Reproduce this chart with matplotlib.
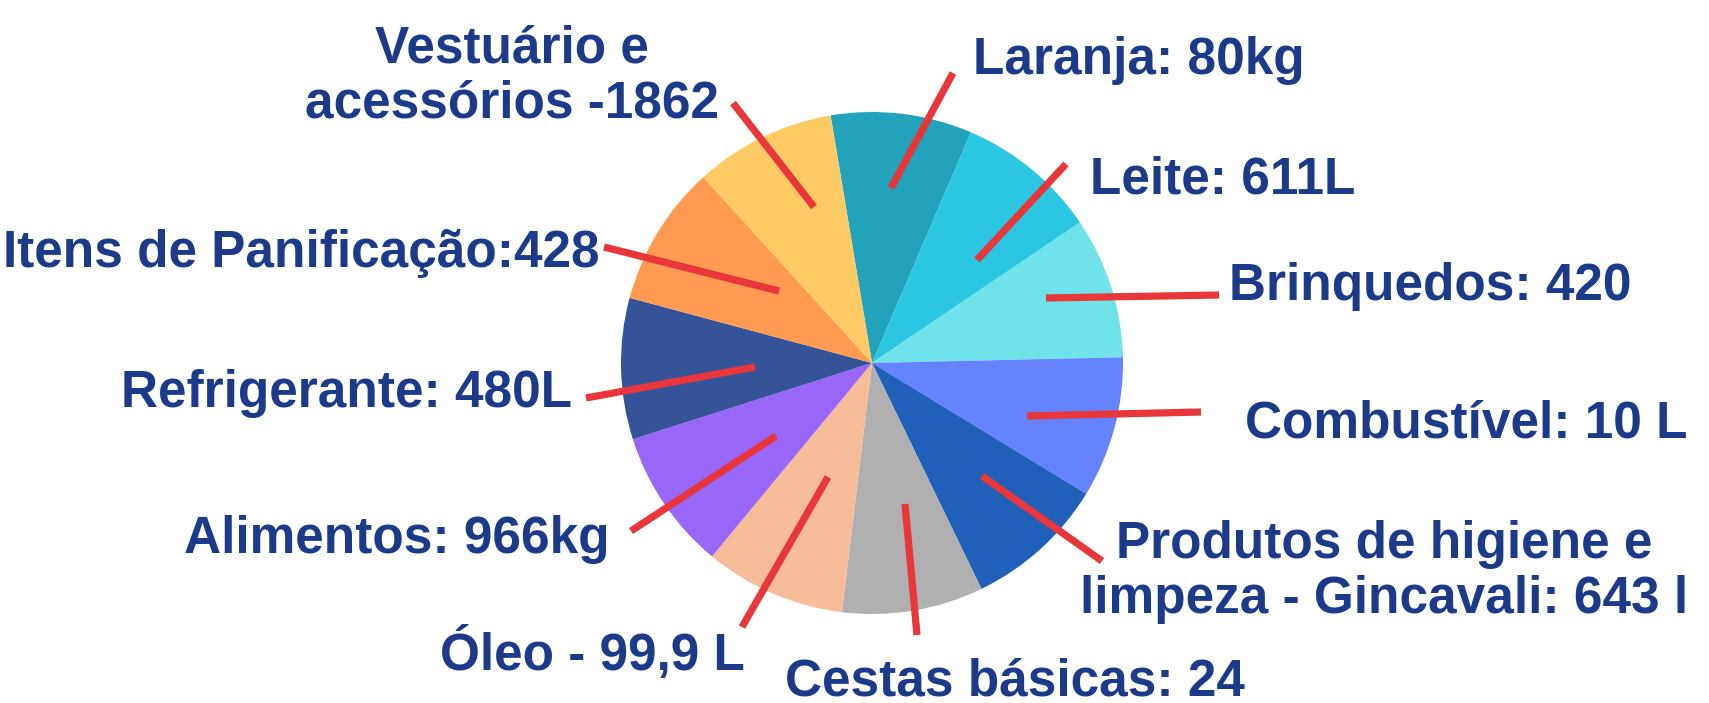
import matplotlib
matplotlib.use("Agg")
import matplotlib.pyplot as plt

# ---- data ----
categories = ["Laranja", "Leite", "Brinquedos", "Combustível",
              "Produtos de higiene e limpeza - Gincavali", "Cestas básicas",
              "Óleo", "Alimentos", "Refrigerante", "Itens de Panificação",
              "Vestuário e acessórios"]
labels = ["Laranja: 80kg", "Leite: 611L", "Brinquedos: 420", "Combustível: 10 L",
          "Produtos de higiene e\nlimpeza - Gincavali: 643 l", "Cestas básicas: 24",
          "Óleo - 99,9 L", "Alimentos: 966kg", "Refrigerante: 480L",
          "Itens de Panificação:428", "Vestuário e\nacessórios -1862"]
sizes = [1, 1, 1, 1, 1, 1, 1, 1, 1, 1, 1]
colors = ["#22A2BB", "#2BC6E1", "#70E3EA", "#6683FF", "#2060B8", "#B0B0B0",
          "#F7BD98", "#9966FA", "#345398", "#FF9A52", "#FFCA63"]

# ---- layout (image pixel coords, y downward) ----
W, H = 1709, 703
leaders = [((891, 188), (953, 73)),
           ((977, 260), (1066, 164)),
           ((1046, 298), (1219, 295)),
           ((1027, 416), (1201, 412)),
           ((982, 476), (1102, 561)),
           ((905, 504), (917, 635)),
           ((828, 477), (742, 627)),
           ((776, 436), (631, 531)),
           ((755, 367), (586, 398)),
           ((779, 291), (604, 247)),
           ((814, 207), (733, 103))]
text_pos = [(973, 74, "left"), (1090, 193, "left"), (1229, 300, "left"),
            (1245, 438, "left"), (1384, 613, "center"), (785, 695, "left"),
            (745, 670, "right"), (610, 553, "right"), (572, 407, "right"),
            (600, 267, "right"), (512, 118, "center")]

fig = plt.figure(figsize=(W / 100, H / 100), dpi=100)
ax = fig.add_axes([0, 0, 1, 1])
ax.pie(sizes, colors=colors, startangle=99.5, counterclock=False,
       center=(872, H - 363), radius=251, frame=True,
       wedgeprops=dict(linewidth=0))
ax.set_xlim(0, W)
ax.set_ylim(0, H)
ax.set_aspect("equal")
ax.axis("off")

for (p0, p1) in leaders:
    ax.plot([p0[0], p1[0]], [H - p0[1], H - p1[1]], color="#E8363A",
            linewidth=5.2, solid_capstyle="butt", zorder=3)

for lab, (x, y, ha) in zip(labels, text_pos):
    ax.text(x, H - y, lab, ha=ha, va="baseline", fontsize=37,
            fontweight="bold", color="#1B3A8A",
            family=["Liberation Sans", "DejaVu Sans"],
            linespacing=1.17, zorder=4)

fig.savefig("out.png", dpi=100)
